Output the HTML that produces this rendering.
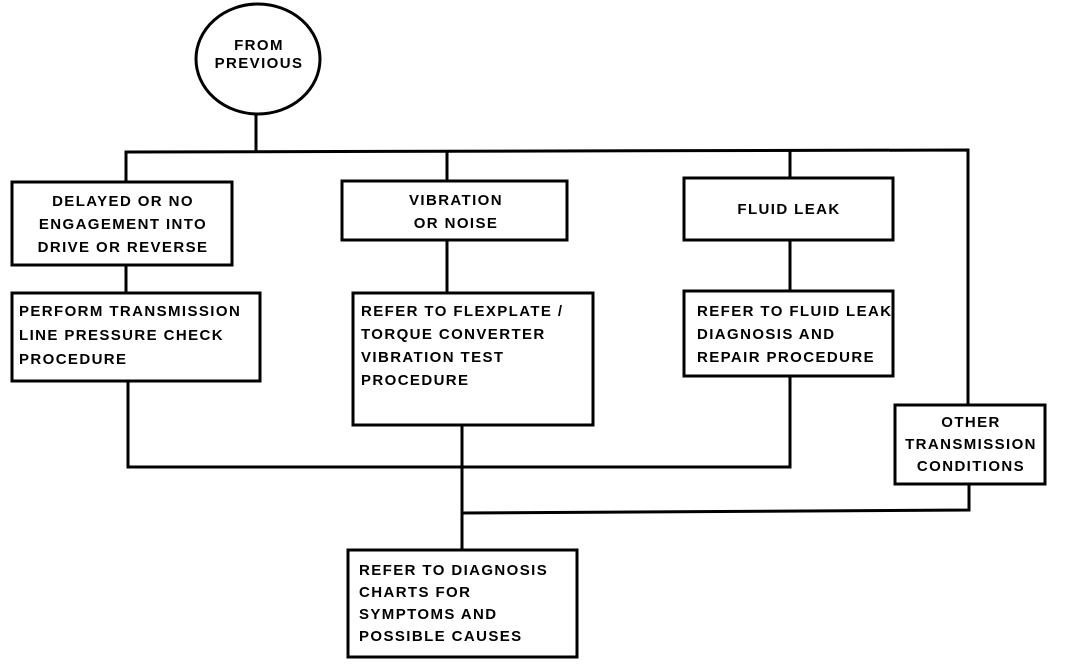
<!DOCTYPE html>
<html><head><style>
body{margin:0;background:#fff;}
svg text{font-family:"Liberation Sans",sans-serif;font-weight:bold;font-size:15px;letter-spacing:1.4px;fill:#000;}
</style></head><body>
<svg width="1072" height="666" viewBox="0 0 1072 666" xmlns="http://www.w3.org/2000/svg">
<g fill="none" stroke="#000" stroke-width="3">
<ellipse cx="258" cy="59" rx="62" ry="55"/>
<line x1="256" y1="114" x2="256" y2="152"/>
<polyline points="126,182 126,152 968,150 968,405"/>
<line x1="447" y1="152" x2="447" y2="181"/>
<line x1="790" y1="151" x2="790" y2="178"/>
<rect x="12" y="182" width="220" height="83"/>
<line x1="126" y1="265" x2="126" y2="293"/>
<rect x="12" y="293" width="248" height="88"/>
<polyline points="128,381 128,467 790,467 790,376"/>
<rect x="342" y="181" width="225" height="59"/>
<line x1="447" y1="240" x2="447" y2="293"/>
<rect x="353" y="293" width="240" height="132"/>
<line x1="462" y1="425" x2="462" y2="550"/>
<rect x="684" y="178" width="209" height="62"/>
<line x1="790" y1="240" x2="790" y2="291"/>
<rect x="684" y="291" width="209" height="85"/>
<rect x="895" y="405" width="150" height="79"/>
<polyline points="969,484 969,510 462,513"/>
<rect x="348" y="550" width="229" height="107"/>
</g>
<text x="259" y="50" text-anchor="middle">FROM</text>
<text x="259" y="68" text-anchor="middle">PREVIOUS</text>
<text x="123" y="206" text-anchor="middle">DELAYED OR NO</text>
<text x="123" y="229" text-anchor="middle">ENGAGEMENT INTO</text>
<text x="123" y="252" text-anchor="middle">DRIVE OR REVERSE</text>
<text x="19" y="316">PERFORM TRANSMISSION</text>
<text x="19" y="340">LINE PRESSURE CHECK</text>
<text x="19" y="364">PROCEDURE</text>
<text x="456" y="205" text-anchor="middle">VIBRATION</text>
<text x="456" y="228" text-anchor="middle">OR NOISE</text>
<text x="361" y="316">REFER TO FLEXPLATE /</text>
<text x="361" y="339">TORQUE CONVERTER</text>
<text x="361" y="362">VIBRATION TEST</text>
<text x="361" y="385">PROCEDURE</text>
<text x="789" y="214" text-anchor="middle">FLUID LEAK</text>
<text x="697" y="316">REFER TO FLUID LEAK</text>
<text x="697" y="339">DIAGNOSIS AND</text>
<text x="697" y="362">REPAIR PROCEDURE</text>
<text x="971" y="427" text-anchor="middle">OTHER</text>
<text x="971" y="449" text-anchor="middle">TRANSMISSION</text>
<text x="971" y="471" text-anchor="middle">CONDITIONS</text>
<text x="359" y="575">REFER TO DIAGNOSIS</text>
<text x="359" y="597">CHARTS FOR</text>
<text x="359" y="619">SYMPTOMS AND</text>
<text x="359" y="641">POSSIBLE CAUSES</text>
</svg>
</body></html>
